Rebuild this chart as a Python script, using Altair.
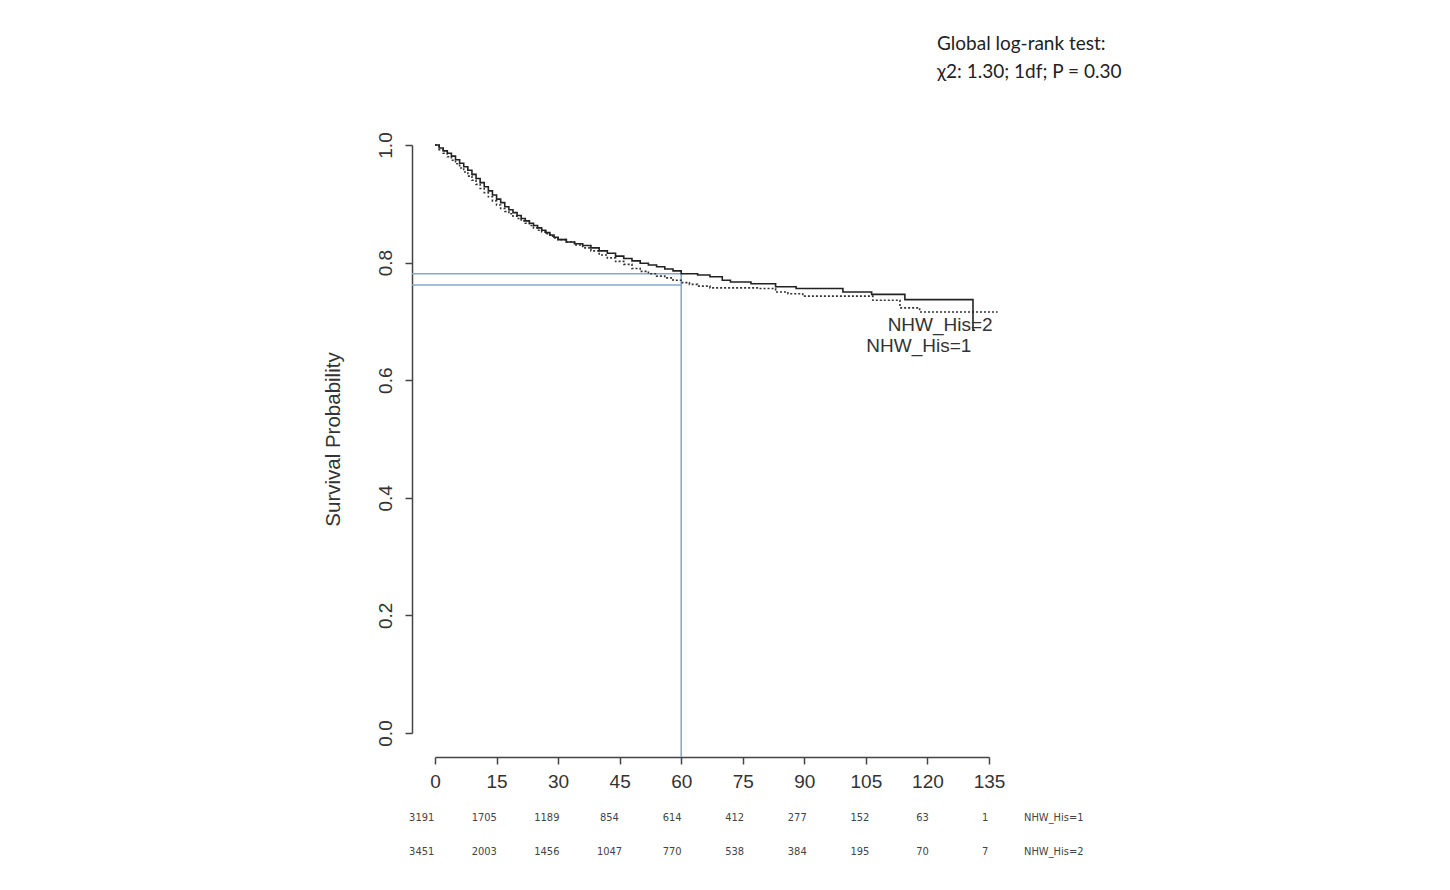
import altair as alt
import pandas as pd

# ---------------- data ----------------
# Kaplan-Meier curve, group NHW_His=1 (solid line)
months_1 = [0, 1, 2, 3, 4, 5, 6, 7, 8, 9, 10, 11, 12, 13, 14, 15, 16, 17, 18, 19,
            20, 21, 22, 23, 24, 25, 26, 27, 28, 29, 30, 32, 34, 36, 38, 40, 42, 44,
            46, 48, 50, 52, 54, 56, 58, 60, 64, 67, 70, 72, 77, 83, 88, 99.4, 106.4,
            114.5, 131.1, 131.6]
surv_1 = [1.000, 0.995, 0.990, 0.986, 0.981, 0.975, 0.969, 0.963, 0.957, 0.950,
          0.943, 0.936, 0.929, 0.922, 0.915, 0.908, 0.902, 0.895, 0.890, 0.885,
          0.880, 0.875, 0.871, 0.867, 0.863, 0.859, 0.855, 0.851, 0.847, 0.843,
          0.839, 0.835, 0.832, 0.829, 0.825, 0.820, 0.816, 0.811, 0.807, 0.803,
          0.799, 0.796, 0.793, 0.789, 0.786, 0.781, 0.779, 0.776, 0.770, 0.767,
          0.764, 0.759, 0.756, 0.750, 0.746, 0.737, 0.685, 0.685]

# Kaplan-Meier curve, group NHW_His=2 (dotted line)
months_2 = [0, 1, 2, 3, 4, 5, 6, 7, 8, 9, 10, 11, 12, 13, 14, 15, 16, 17, 18, 19,
            20, 21, 22, 23, 24, 25, 26, 27, 28, 29, 30, 32, 34, 36, 38, 40, 42, 44,
            46, 48, 50, 52, 54, 56, 58, 60, 62, 64, 67, 79, 83, 86, 89.6, 106.7,
            113.3, 118.1, 137.1]
surv_2 = [1.000, 0.992, 0.986, 0.980, 0.974, 0.968, 0.961, 0.954, 0.947, 0.940,
          0.933, 0.926, 0.919, 0.912, 0.905, 0.898, 0.892, 0.887, 0.883, 0.879,
          0.875, 0.871, 0.867, 0.863, 0.859, 0.855, 0.852, 0.849, 0.845, 0.842,
          0.839, 0.835, 0.830, 0.825, 0.820, 0.813, 0.808, 0.802, 0.797, 0.790,
          0.785, 0.781, 0.777, 0.774, 0.770, 0.766, 0.763, 0.760, 0.757, 0.756,
          0.750, 0.747, 0.743, 0.736, 0.723, 0.716, 0.716]

group_names = ["NHW_His=1", "NHW_His=2"]

# number at risk table
risk_times = [0, 15, 30, 45, 60, 75, 90, 105, 120, 135]
risk_1 = [3191, 1705, 1189, 854, 614, 412, 277, 152, 63, 1]
risk_2 = [3451, 2003, 1456, 1047, 770, 538, 384, 195, 70, 7]

x_ticks = [0, 15, 30, 45, 60, 75, 90, 105, 120, 135]
y_ticks = [0.0, 0.2, 0.4, 0.6, 0.8, 1.0]

# 60-month reference lines
ref_month = 60
ref_surv = [0.781, 0.762]

# curve end labels (month, survival)
end_label_text = ["NHW_His=2", "NHW_His=1"]
end_label_month = [123.1, 117.9]
end_label_surv = [0.694, 0.659]

test_lines = ["Global log-rank test:", "\u03c72: 1.30; 1df; P = 0.30"]

# ---------------- layout / style ----------------
W, H = 554, 588
X_MAX = 135
X_AXIS_OFFSET = 24
Y_AXIS_OFFSET = 23
AX_COLOR = "#444444"
TXT_COLOR = "#333333"
BLUE = "#86a8cb"
FONT = "Liberation Sans"

x_scale = alt.Scale(domain=[0, X_MAX], nice=False, zero=False)
y_scale = alt.Scale(domain=[0, 1], nice=False, zero=False)

curve1 = pd.DataFrame({"month": months_1, "surv": surv_1, "group": group_names[0]})
curve2 = pd.DataFrame({"month": months_2, "surv": surv_2, "group": group_names[1]})

x_axis = alt.Axis(values=x_ticks, offset=X_AXIS_OFFSET, title=None, grid=False,
                  domainColor=AX_COLOR, domainWidth=1.5, tickColor=AX_COLOR,
                  tickWidth=1.5, tickSize=7, labelFont=FONT, labelFontSize=19,
                  labelColor=TXT_COLOR, labelPadding=8, labelFlush=False,
                  labelOverlap=False)
y_axis = alt.Axis(values=y_ticks, format=".1f", offset=Y_AXIS_OFFSET,
                  title="Survival Probability", grid=False,
                  domainColor=AX_COLOR, domainWidth=1.5, tickColor=AX_COLOR,
                  tickWidth=1.5, tickSize=7, labelFont=FONT, labelFontSize=19,
                  labelColor=TXT_COLOR, labelAngle=270, labelAlign="center",
                  labelBaseline="bottom", labelPadding=10, labelFlush=False,
                  labelOverlap=False, titleFont=FONT, titleFontSize=20.5,
                  titleFontWeight="normal", titleColor=TXT_COLOR, titlePadding=33)

line_solid = alt.Chart(curve1).mark_line(
    interpolate="step-after", color="#222222", strokeWidth=1.6
).encode(
    x=alt.X("month:Q", scale=x_scale, axis=x_axis),
    y=alt.Y("surv:Q", scale=y_scale, axis=y_axis),
)

line_dotted = alt.Chart(curve2).mark_line(
    interpolate="step-after", color="#333333", strokeWidth=1.6, strokeDash=[2, 2]
).encode(
    x=alt.X("month:Q", scale=x_scale),
    y=alt.Y("surv:Q", scale=y_scale),
)

# reference lines reach back to the offset axes
x_start = -Y_AXIS_OFFSET * X_MAX / W
y_bottom = -X_AXIS_OFFSET / H
ref_h = pd.DataFrame({"x": [x_start] * len(ref_surv), "x2": [ref_month] * len(ref_surv),
                      "y": ref_surv})
ref_v = pd.DataFrame({"x": [ref_month], "y": [max(ref_surv)], "y2": [y_bottom]})

rule_h = alt.Chart(ref_h).mark_rule(color=BLUE, strokeWidth=1.6).encode(
    x=alt.X("x:Q", scale=x_scale), x2="x2:Q", y=alt.Y("y:Q", scale=y_scale)
)
rule_v = alt.Chart(ref_v).mark_rule(color=BLUE, strokeWidth=1.6).encode(
    x=alt.X("x:Q", scale=x_scale), y=alt.Y("y:Q", scale=y_scale), y2="y2:Q"
)

end_labels = alt.Chart(pd.DataFrame({"t": end_label_text, "month": end_label_month,
                                     "surv": end_label_surv})).mark_text(
    font=FONT, fontSize=19, color=TXT_COLOR, align="center", baseline="middle"
).encode(
    x=alt.X("month:Q", scale=x_scale), y=alt.Y("surv:Q", scale=y_scale), text="t:N"
)

test_text = alt.Chart(pd.DataFrame({"t": [test_lines]})).mark_text(
    font="Lato", fontSize=19, color="#222222", align="left", baseline="middle",
    lineHeight=28
).encode(
    x=alt.value(502), y=alt.value(-101), text="t"
)

main = alt.layer(rule_h, rule_v, line_dotted, line_solid, end_labels, test_text)

# number-at-risk table (its own horizontal scale, as in the source figure)
table_scale = alt.Scale(domain=[3.19, 135.95], nice=False, zero=False)
TABLE_FONT = "Liberation Sans Narrow, DejaVu Sans Condensed, Liberation Sans, sans-serif"
row_layers = []
for counts, name, ypix in [(risk_1, group_names[0], 673), (risk_2, group_names[1], 707)]:
    df = pd.DataFrame({"month": risk_times, "n": [str(c) for c in counts]})
    nums = alt.Chart(df).mark_text(
        font=TABLE_FONT, fontSize=11, color="#444444", align="center", baseline="middle"
    ).encode(
        x=alt.X("month:Q", scale=table_scale, axis=None), y=alt.value(ypix), text="n:N"
    )
    lab = alt.Chart(pd.DataFrame({"t": [name]})).mark_text(
        font=TABLE_FONT, fontSize=11, color="#444444", align="left", baseline="middle"
    ).encode(x=alt.value(589), y=alt.value(ypix), text="t:N")
    row_layers += [nums, lab]

table = alt.layer(*row_layers)

chart = alt.layer(main, table).resolve_scale(x="independent").properties(
    width=W, height=H,
    autosize=alt.AutoSizeParams(type="none"),
    padding={"left": 427, "top": 137, "right": 440, "bottom": 140},
).configure(background="white").configure_view(stroke="transparent", strokeWidth=0)

chart.save("out.html", embed_options={"renderer": "svg", "actions": False})
